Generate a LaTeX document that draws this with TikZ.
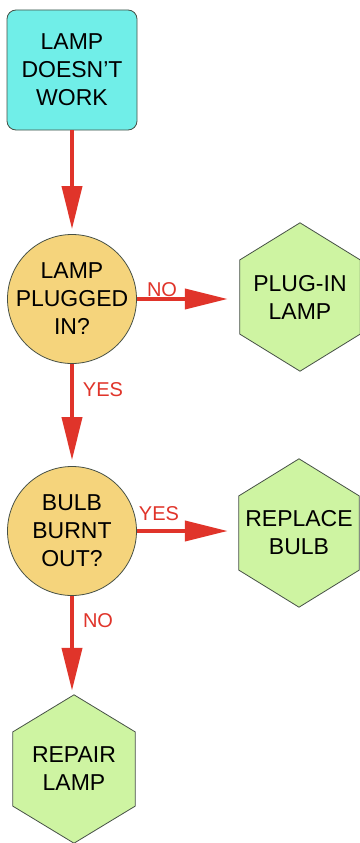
\documentclass[tikz,border=0pt]{standalone}
\usepackage{fontspec}
\setmainfont{Liberation Sans}
\usetikzlibrary{arrows.meta,backgrounds,calc}
\definecolor{boxcyan}{RGB}{112,238,232}
\definecolor{decyellow}{RGB}{245,212,124}
\definecolor{hexgreen}{RGB}{206,244,162}
\definecolor{arrowred}{RGB}{224,52,42}
\definecolor{edgegray}{RGB}{70,80,70}
\tikzset{
  x=1pt, y=-1pt,
  maintext/.style={font=\fontsize{23}{28}\selectfont, align=center, text=black},
  startbox/.style={maintext, rectangle, rounded corners=9pt, draw=edgegray, line width=0.8pt, fill=boxcyan, minimum width=130pt, minimum height=120pt, inner sep=0pt},
  decision/.style={maintext, circle, draw=edgegray, line width=0.8pt, fill=decyellow, minimum size=129pt, inner sep=-15pt},
  hexnode/.style={maintext, rectangle, minimum width=120pt, minimum height=148pt, inner sep=0pt},
  hexline/.style={draw=edgegray, line width=0.8pt, fill=hexgreen},
  flow/.style={draw=arrowred, line width=4pt, -{Triangle[length=43pt,width=20pt]}, arrowred},
  lbl/.style={font=\fontsize{20}{22}\selectfont, text=arrowred, inner sep=0pt},
}
\newcommand\hexback[1]{%
  \begin{scope}[on background layer]
    \path[hexline] (#1.north)
      -- ($(#1.north east)!0.25!(#1.south east)$)
      -- ($(#1.north east)!0.75!(#1.south east)$)
      -- (#1.south)
      -- ($(#1.north west)!0.75!(#1.south west)$)
      -- ($(#1.north west)!0.25!(#1.south west)$)
      -- cycle;
  \end{scope}}
\begin{document}
\begin{tikzpicture}
\begin{scope}[on background layer]
\fill[white] (0,0) rectangle (359,843);
\end{scope}
\useasboundingbox (0,0) rectangle (359,843);
\node[startbox] (start) at (72,70) {LAMP\\DOESN'T\\WORK};
\node[decision] (plug) at (72,299) {LAMP\\PLUGGED\\IN?};
\node[decision] (bulb) at (72,531) {BULB\\BURNT\\OUT?};
\node[hexnode] (plugin) at (300,297) {PLUG-IN\\LAMP};
\node[hexnode] (replace) at (299,533) {REPLACE\\BULB};
\node[hexnode, minimum width=122pt] (repair) at (74,769) {REPAIR\\LAMP};
\hexback{plugin}
\hexback{replace}
\hexback{repair}
\draw[flow, shorten >=5pt] (start.south) -- (plug.north);
\draw[flow, shorten >=12pt] (plug.east) -- (plug.east -| plugin.west);
\draw[flow, shorten >=6pt] (plug.south) -- (bulb.north);
\draw[flow, shorten >=11pt] (bulb.east) -- (bulb.east -| replace.west);
\draw[flow, shorten >=4pt] (bulb.south) -- (bulb.south |- repair.north);
\node[lbl] (lno1) at (162,290) {NO};
\node[lbl] (lyes1) at (103,390) {YES};
\node[lbl] (lyes2) at (159,514) {YES};
\node[lbl] (lno2) at (98,621) {NO};
\end{tikzpicture}
\end{document}
